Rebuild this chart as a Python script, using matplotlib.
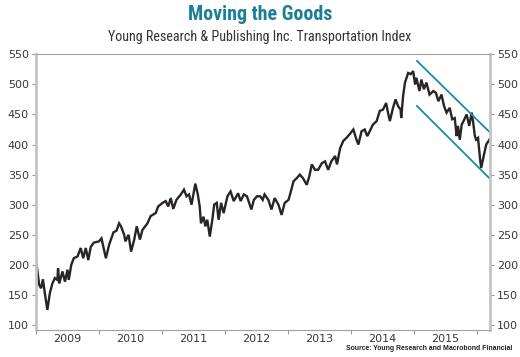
import matplotlib
matplotlib.use("Agg")
import matplotlib.pyplot as plt
from matplotlib import font_manager

# ---- data (fractional years, index level) ----
dates = [
    2009.01, 2009.05, 2009.08, 2009.11, 2009.14, 2009.18, 2009.22, 2009.26, 2009.30, 2009.34,
    2009.35, 2009.37, 2009.42, 2009.46, 2009.50, 2009.52, 2009.56, 2009.60, 2009.66, 2009.71,
    2009.75, 2009.79, 2009.83, 2009.87, 2009.92, 2010.00, 2010.04, 2010.08, 2010.11, 2010.16,
    2010.23, 2010.28, 2010.32, 2010.35, 2010.40, 2010.42, 2010.47, 2010.51, 2010.56, 2010.60,
    2010.65, 2010.69, 2010.77, 2010.82, 2010.90, 2010.94, 2011.01, 2011.06, 2011.10, 2011.14,
    2011.18, 2011.23, 2011.30, 2011.35, 2011.39, 2011.43, 2011.47, 2011.50, 2011.53, 2011.57,
    2011.60, 2011.62, 2011.66, 2011.69, 2011.72, 2011.76, 2011.80, 2011.83, 2011.87, 2011.90,
    2011.94, 2011.98, 2012.04, 2012.09, 2012.14, 2012.21, 2012.25, 2012.30, 2012.35, 2012.42,
    2012.46, 2012.51, 2012.56, 2012.60, 2012.63, 2012.69, 2012.74, 2012.79, 2012.85, 2012.90,
    2012.95, 2013.01, 2013.04, 2013.09, 2013.14, 2013.19, 2013.24, 2013.30, 2013.34, 2013.38,
    2013.43, 2013.48, 2013.54, 2013.59, 2013.64, 2013.69, 2013.75, 2013.78, 2013.83, 2013.88,
    2013.93, 2013.98, 2014.04, 2014.09, 2014.12, 2014.17, 2014.22, 2014.26, 2014.30, 2014.35,
    2014.41, 2014.46, 2014.51, 2014.56, 2014.59, 2014.62, 2014.67, 2014.71, 2014.75, 2014.79,
    2014.80, 2014.83, 2014.86, 2014.91, 2014.95, 2014.99, 2015.02, 2015.04, 2015.09, 2015.12,
    2015.16, 2015.20, 2015.25, 2015.31, 2015.35, 2015.39, 2015.44, 2015.48, 2015.52, 2015.57,
    2015.61, 2015.65, 2015.68, 2015.70, 2015.73, 2015.76, 2015.79, 2015.84, 2015.88, 2015.92,
    2015.94, 2015.97, 2015.99, 2016.02, 2016.05, 2016.07, 2016.11, 2016.15, 2016.20,
]
index_values = [
    200, 167, 161, 176, 153, 125, 153, 169, 178, 175,
    194, 169, 189, 172, 192, 175, 200, 211, 214, 228,
    211, 228, 208, 230, 237, 239, 244, 225, 211, 233,
    254, 257, 269, 264, 250, 239, 250, 222, 242, 264,
    242, 258, 269, 281, 286, 297, 303, 306, 297, 311,
    293, 308, 317, 325, 314, 317, 300, 317, 335, 317,
    297, 269, 280, 264, 275, 247, 275, 300, 303, 275,
    303, 286, 314, 322, 306, 319, 306, 317, 314, 292,
    308, 314, 314, 308, 317, 308, 292, 311, 300, 283,
    303, 308, 319, 339, 344, 350, 344, 333, 347, 367,
    358, 358, 369, 372, 358, 372, 381, 367, 394, 406,
    411, 417, 425, 408, 400, 422, 425, 414, 422, 433,
    439, 456, 458, 469, 453, 439, 461, 475, 464, 458,
    444, 481, 503, 519, 517, 522, 500, 511, 489, 508,
    492, 503, 483, 489, 486, 472, 483, 464, 453, 461,
    442, 444, 414, 431, 408, 433, 439, 450, 431, 453,
    439, 414, 408, 411, 378, 361, 381, 400, 408,
]

# trend channel endpoints
channel_dates = [2015.05, 2016.21]
channel_upper = [539, 420]
channel_lower = [464, 343]

year_ticks = [2009, 2010, 2011, 2012, 2013, 2014, 2015, 2016]
year_labels = ["2009", "2010", "2011", "2012", "2013", "2014", "2015"]
y_ticks = [100, 150, 200, 250, 300, 350, 400, 450, 500, 550]

title = "Moving the Goods"
subtitle = "Young Research & Publishing Inc. Transportation Index"
source = "Source: Young Research and Macrobond Financial"

available = {f.name for f in font_manager.fontManager.ttflist}
narrow = "DejaVu Sans"
for cand in ["Liberation Sans Narrow", "DejaVu Sans Condensed", "Roboto Condensed",
             "Open Sans Condensed", "Roboto", "Liberation Sans"]:
    if cand in available:
        narrow = cand
        break
src_font = "Liberation Sans" if "Liberation Sans" in available else "DejaVu Sans"

fig = plt.figure(figsize=(5.2, 3.57), dpi=100)
ax = fig.add_axes([36 / 520, 1 - 329.5 / 357, 454 / 520, 275.5 / 357])

ax.plot(dates, index_values, color="#2a2424", lw=1.7, solid_joinstyle="miter")
ax.plot(channel_dates, channel_upper, color="#1a8ca5", lw=1.3)
ax.plot(channel_dates, channel_lower, color="#1a8ca5", lw=1.3)

ax.set_xlim(2009.0, 2016.21)
ax.set_ylim(92.5, 550.5)

ax.set_yticks(y_ticks)
ax.tick_params(axis="y", which="both", left=True, right=True, labelleft=True, labelright=True,
               length=3, width=0.8, color="#999999", labelsize=8, labelcolor="#383838", pad=2)
ax.set_xticks(year_ticks)
ax.set_xticklabels([])
ax.set_xticks([y + 0.5 for y in year_ticks[:-1]], minor=True)
ax.set_xticklabels(year_labels, minor=True)
ax.tick_params(axis="x", which="major", length=3, width=0.8, color="#999999")
ax.tick_params(axis="x", which="minor", length=0, labelsize=8, labelcolor="#383838", pad=3)

for side in ["left", "right"]:
    ax.spines[side].set_color("#c4c4c4")
    ax.spines[side].set_linewidth(2.0)
ax.spines["top"].set_color("#a0a0a0")
ax.spines["top"].set_linewidth(0.8)
ax.spines["bottom"].set_color("#a0a0a0")
ax.spines["bottom"].set_linewidth(0.8)

t_title = fig.text(0.5, 1 - 14 / 357, title, ha="center", va="center", fontsize=15,
                   fontweight="bold", color="#1a7f99", family=narrow)
t_sub = fig.text(0.5, 1 - 37 / 357, subtitle, ha="center", va="center", fontsize=11,
                 color="#333333", family=narrow)
t_src = fig.text(512 / 520, 1 - 349 / 357, source, ha="right", va="center", fontsize=5.2,
                 fontweight="bold", color="#222222", family=src_font)

# fit text widths to the reference layout
fig.canvas.draw()
renderer = fig.canvas.get_renderer()
for txt, target in [(t_title, 145), (t_sub, 305), (t_src, 167)]:
    w = txt.get_window_extent(renderer).width
    txt.set_fontsize(txt.get_fontsize() * target / w)

fig.savefig("out.png", dpi=100)
